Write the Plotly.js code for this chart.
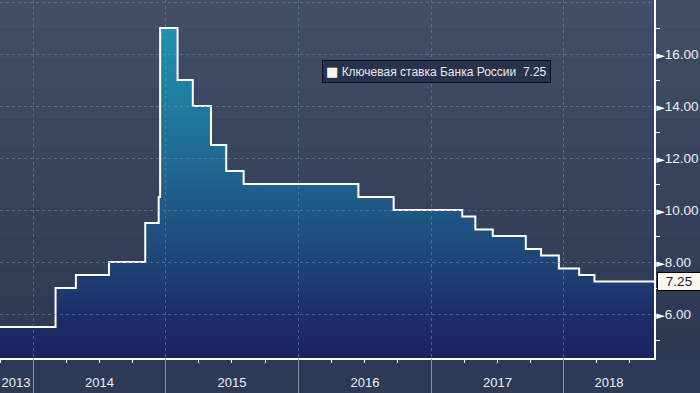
<!DOCTYPE html>
<html>
<head>
<meta charset="utf-8">
<script src="https://cdn.plot.ly/plotly-3.0.1.min.js"></script>
<style>
html,body{margin:0;padding:0;background:#2c3a56;}
#chart{width:700px;height:393px;}
</style>
</head>
<body>
<div id="chart"></div>
<script>
// ---- data ----
const seriesName = 'Ключевая ставка Банка России';
const rateDates = ['2013-09-13','2014-03-03','2014-04-28','2014-07-28','2014-11-05','2014-12-12','2014-12-16',
  '2015-02-02','2015-03-16','2015-05-05','2015-06-16','2015-08-03','2016-06-14','2016-09-19',
  '2017-03-27','2017-05-02','2017-06-19','2017-09-18','2017-10-30','2017-12-18',
  '2018-02-12','2018-03-26','2018-09-06'];
const rateValues = [5.50,7.00,7.50,8.00,9.50,10.50,17.00,
  15.00,14.00,12.50,11.50,11.00,10.50,10.00,
  9.75,9.25,9.00,8.50,8.25,7.75,
  7.50,7.25,7.25];
const yearLabels = ['2013','2014','2015','2016','2017','2018'];
const yearLabelPos = ['2013-11-14','2014-07-02','2015-07-02','2016-07-02','2017-07-02','2018-05-05'];
const yearStarts = ['2014-01-01','2015-01-01','2016-01-01','2017-01-01','2018-01-01'];
const yTickVals = [6,8,10,12,14,16,18];
const xRange = ['2013-10-01','2018-09-06'];
const yRange = [4.31,18.08];

// ---- styling helpers ----
const lastVal = rateValues[rateValues.length-1];
const tri = '<span style="font-family:DejaVu Sans;font-size:11px;color:#ffffff">►</span>';
const yTickText = yTickVals.map(v => v === 18 ? tri : tri + v.toFixed(2));

function lerp(a,b,t){return Math.round(a+(b-a)*t);}
const topC=[66,78,104], botC=[45,56,82];
const nb=12, bands=[];
for(let i=0;i<nb;i++){
  const t=i/(nb-1);
  bands.push({type:'rect',xref:'paper',yref:'paper',x0:0,x1:1.08,
    y0:1-(i+1)/nb,y1:1-i/nb,layer:'below',line:{width:0},
    fillcolor:`rgb(${lerp(topC[0],botC[0],t)},${lerp(topC[1],botC[1],t)},${lerp(topC[2],botC[2],t)})`});
}

const gridCol='rgba(105,145,175,0.55)';
const labelCol='#eef0f5';
const font='"Liberation Sans", Arial, sans-serif';

const trace = {
  type:'scatter', mode:'lines', x:rateDates, y:rateValues, name:seriesName,
  line:{shape:'hv', color:'#ffffff', width:2},
  fill:'tozeroy',
  fillgradient:{type:'vertical', start:4.3, stop:17.1,
    colorscale:[[0,'#1a2460'],[0.133,'#1c2d67'],[0.21,'#1d3a70'],[0.29,'#1e4477'],
                [0.445,'#1f5785'],[0.60,'#1f6a93'],[0.76,'#1f7b9f'],[1,'#2291ae']]},
  showlegend:false, hoverinfo:'x+y'
};
// same series on the overlay subplot, invisible: it only carries the grid layer above the fill
const gridCarrier = {
  type:'scatter', mode:'lines', x:rateDates, y:rateValues, xaxis:'x2', yaxis:'y2',
  line:{width:0}, opacity:0, showlegend:false, hoverinfo:'skip'
};

const layout = {
  width:700, height:393,
  margin:{l:0,r:46,t:0,b:35,pad:0},
  paper_bgcolor:'#2c3a56', plot_bgcolor:'rgba(0,0,0,0)',
  font:{family:font, color:labelCol},
  showlegend:false,
  shapes:bands,
  xaxis:{type:'date', range:xRange, anchor:'y',
    tickmode:'array', tickvals:yearLabelPos, ticktext:yearLabels,
    ticks:'', showgrid:false, zeroline:false,
    showline:true, linecolor:'#ffffff', linewidth:1.5,
    tickfont:{size:13,color:labelCol,family:font}, ticklabelstandoff:12, ticklabeloverflow:'allow',
    minor:{tickmode:'linear', tick0:'2013-01-01', dtick:'M3', ticks:'outside', ticklen:3, tickcolor:'#ffffff', tickwidth:1, showgrid:false},
    fixedrange:true},
  yaxis:{range:yRange, side:'right', anchor:'x',
    tickmode:'array', tickvals:yTickVals, ticktext:yTickText,
    ticks:'', showgrid:false, zeroline:false,
    showline:true, linecolor:'#ffffff', linewidth:1.5,
    tickfont:{size:13.5,color:labelCol,family:font}, ticklabelstandoff:-2,
    minor:{tickmode:'linear', tick0:1, dtick:2, ticks:'outside', ticklen:4, tickcolor:'#ffffff', tickwidth:1, showgrid:false},
    fixedrange:true},
  xaxis2:{type:'date', range:xRange, anchor:'y2',
    tickmode:'array', tickvals:yearStarts, showticklabels:false,
    ticks:'outside', ticklen:35, tickcolor:'#8a93a6', tickwidth:1,
    showgrid:true, gridcolor:gridCol, griddash:'3px,3px', gridwidth:1,
    zeroline:false, showline:false, fixedrange:true},
  yaxis2:{range:yRange, anchor:'x2', side:'right',
    tickmode:'array', tickvals:yTickVals, showticklabels:false, ticks:'',
    showgrid:true, gridcolor:gridCol, griddash:'3px,3px', gridwidth:1,
    zeroline:false, showline:false, fixedrange:true},
  annotations:[
    {xref:'paper', yref:'paper', x:0.492, y:0.800, xanchor:'left', yanchor:'middle',
     text:'<span style="font-family:DejaVu Sans;color:#fdf5ea;font-size:13px">■</span>\u00a0' + seriesName + '\u00a0\u00a0' + lastVal.toFixed(2),
     font:{size:12,color:'#e8eaf0',family:font}, showarrow:false,
     bgcolor:'#28324c', bordercolor:'#0c0f1a', borderwidth:1, borderpad:3},
    {xref:'paper', yref:'y', x:1, y:lastVal, xanchor:'left', yanchor:'middle', xshift:3,
     text:lastVal.toFixed(2), font:{size:13.5,color:'#141a30',family:font}, showarrow:false,
     bgcolor:'#fdf6ec', bordercolor:'#000000', borderwidth:1, borderpad:1, width:40, align:'center'}
  ]
};

Plotly.newPlot('chart',[trace, gridCarrier],layout,{displayModeBar:false, staticPlot:true});
</script>
</body>
</html>
